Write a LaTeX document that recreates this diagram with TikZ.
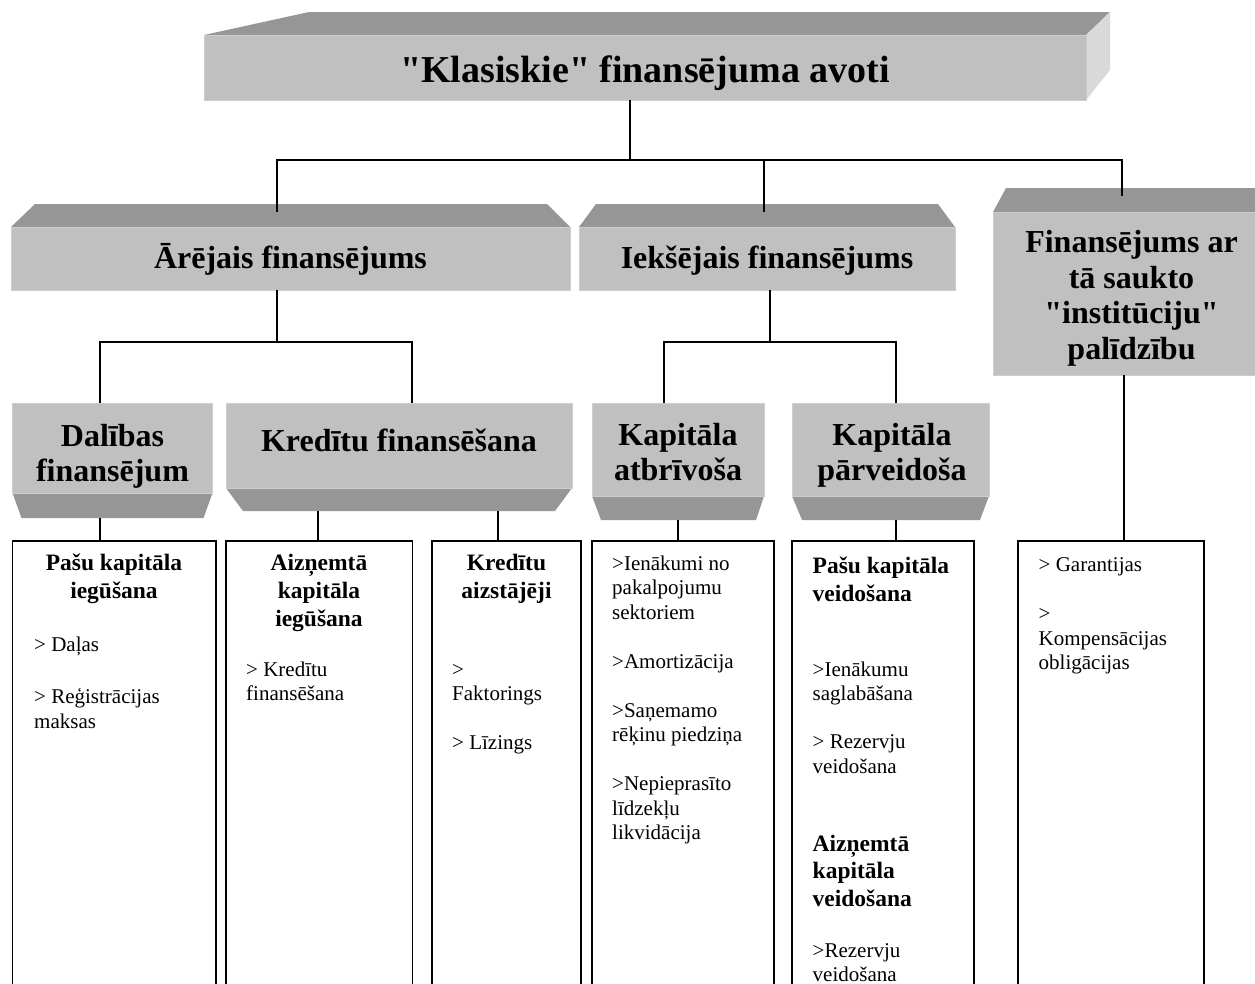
\documentclass[tikz,border=0pt]{standalone}
\usepackage{fontspec}
\setmainfont{Liberation Serif}[Ligatures=TeXOff]
\definecolor{facegray}{HTML}{C0C0C0}
\definecolor{edgegray}{HTML}{CDCDCD}
\definecolor{bevelgray}{HTML}{969696}
\definecolor{sidegray}{HTML}{D9D9D9}

\begin{document}
\begin{tikzpicture}[x=1pt,y=-1pt,
  face/.style={fill=facegray, draw=edgegray, line width=0.8, inner sep=0pt, outer sep=0pt},
  bevel/.style={fill=bevelgray},
  side/.style={fill=sidegray},
  link/.style={draw=black, line width=1.8},
  listbox/.style={draw=black, line width=1.8, inner sep=0pt, outer sep=0pt},
  hdA/.style={font=\fontsize{38}{40}\selectfont\bfseries, anchor=base, inner sep=0pt},
  hdB/.style={font=\fontsize{32}{35}\selectfont\bfseries, anchor=base, inner sep=0pt},
  subhd/.style={font=\fontsize{23.5}{28}\selectfont\bfseries, anchor=base, inner sep=0pt},
  subhdl/.style={font=\fontsize{23.5}{28}\selectfont\bfseries, anchor=base west, inner sep=0pt},
  entry/.style={font=\fontsize{21}{24.5}\selectfont, anchor=base west, inner sep=0pt},
]
\useasboundingbox (0,0) rectangle (1255,983);
\fill[white] (0,0) rectangle (1255,983);
\clip (0,0) rectangle (1255,983);

% ---------- top block ----------
\fill[bevel] (204,35) -- (309,12) -- (1110,12) -- (1086,35) -- cycle;
\fill[side]  (1086,35) -- (1110,12) -- (1110,70) -- (1086,100) -- cycle;
\node[face, minimum width=882, minimum height=65] (top) at (645,67.5) {};
\node[hdA] (tTop) at (645,82) {"Klasiskie" finansējuma avoti};

% ---------- second level ----------
\fill[bevel] (11,227) -- (35,204) -- (547,204) -- (570,227) -- cycle;
\node[face, minimum width=559, minimum height=63] (ext) at (290.5,258.5) {};
\node[hdB] (tExt) at (290.5,268) {Ārējais finansējums};

\fill[bevel] (579,227) -- (596,204) -- (938,204) -- (955,227) -- cycle;
\node[face, minimum width=376, minimum height=63] (int) at (767,258.5) {};
\node[hdB] (tInt) at (767,268) {Iekšējais finansējums};

\fill[bevel] (993,212) -- (1006,188) -- (1275,188) -- (1275,212) -- cycle;
\node[face, minimum width=277, minimum height=163] (inst) at (1131.5,293.5) {};
\node[hdB] (tInst1) at (1131.5,252) {Finansējums ar};
\node[hdB] (tInst2) at (1131.5,288) {tā saukto};
\node[hdB] (tInst3) at (1131.5,323.5) {"institūciju"};
\node[hdB] (tInst4) at (1131.5,359.5) {palīdzību};

% ---------- third level ----------
\fill[bevel] (12.5,493) -- (212.5,493) -- (203.5,518) -- (21.5,518) -- cycle;
\node[face, minimum width=200, minimum height=90] (dal) at (112.5,448) {};
\node[hdB] (tDal1) at (112.5,446) {Dalības};
\node[hdB] (tDal2) at (112.5,481) {finansējum};

\fill[bevel] (226,488) -- (572,488) -- (555,511) -- (243,511) -- cycle;
\node[face, minimum width=346, minimum height=85] (kred) at (399,445.5) {};
\node[hdB] (tKred) at (399,451) {Kredītu finansēšana};

\fill[bevel] (592,496) -- (764,496) -- (756,520) -- (601,520) -- cycle;
\node[face, minimum width=172, minimum height=93] (atb) at (678,449.5) {};
\node[hdB] (tAtb1) at (678,445) {Kapitāla};
\node[hdB] (tAtb2) at (678,480) {atbrīvoša};

\fill[bevel] (792,496) -- (989,496) -- (980,520) -- (802,520) -- cycle;
\node[face, minimum width=197, minimum height=93] (parv) at (890.5,449.5) {};
\node[hdB] (tParv1) at (892,445) {Kapitāla};
\node[hdB] (tParv2) at (892,480) {pārveidoša};

% ---------- list boxes ----------
\node[listbox, minimum width=203.5, minimum height=459] (b1) at (114.25,770.5) {};
\node[listbox, minimum width=186.5, minimum height=459] (b2) at (319.25,770.5) {};
\node[listbox, minimum width=149,   minimum height=459] (b3) at (506.5,770.5) {};
\node[listbox, minimum width=182,   minimum height=459] (b4) at (683,770.5) {};
\node[listbox, minimum width=182,   minimum height=459] (b5) at (883,770.5) {};
\node[listbox, minimum width=186,   minimum height=459] (b6) at (1111,770.5) {};

% ---------- connectors ----------
\coordinate (j0) at (630,160);
\coordinate (aIn) at (277,212);
\coordinate (bIn) at (764,212);
\coordinate (cIn) at (1122,196);
\draw[link] (top.south -| j0) -- (j0);
\draw[link] (aIn) |- (cIn |- j0) -- (cIn);
\draw[link] (bIn) -- (bIn |- j0);

\coordinate (j1) at (277,342);
\coordinate (j1l) at (100,342);
\coordinate (j1r) at (412,342);
\draw[link] (ext.south -| j1) -- (j1);
\draw[link] (dal.north -| j1l) |- (j1r) -- (kred.north -| j1r);

\coordinate (j2) at (770,342);
\coordinate (j2l) at (664,342);
\coordinate (j2r) at (896,342);
\draw[link] (int.south -| j2) -- (j2);
\draw[link] (atb.north -| j2l) |- (j2r) -- (parv.north -| j2r);

\coordinate (dalOut) at (100,518);
\coordinate (kredOutA) at (318,511);
\coordinate (kredOutB) at (498,511);
\coordinate (atbOut) at (678,520);
\coordinate (parvOut) at (896,520);
\coordinate (instOut) at (1124,375);
\draw[link] (dalOut) -- (b1.north -| dalOut);
\draw[link] (kredOutA) -- (b2.north -| kredOutA);
\draw[link] (kredOutB) -- (b3.north -| kredOutB);
\draw[link] (atbOut) -- (b4.north -| atbOut);
\draw[link] (parvOut) -- (b5.north -| parvOut);
\draw[link] (instOut) -- (b6.north -| instOut);

% ---------- list contents ----------
\node[subhd] (b1h1) at (114,570) {Pašu kapitāla};
\node[subhd] (b1h2) at (114,598) {iegūšana};
\node[entry] (b1e1) at (34,651) {> Daļas};
\node[entry] (b1e2) at (34,703) {> Reģistrācijas};
\node[entry] (b1e3) at (34,728) {maksas};

\node[subhd] (b2h1) at (319,570) {Aizņemtā};
\node[subhd] (b2h2) at (319,598) {kapitāla};
\node[subhd] (b2h3) at (319,626) {iegūšana};
\node[entry] (b2e1) at (246,676) {> Kredītu};
\node[entry] (b2e2) at (246,700.5) {finansēšana};

\node[subhd] (b3h1) at (506.5,570) {Kredītu};
\node[subhd] (b3h2) at (506.5,598) {aizstājēji};
\node[entry] (b3e1) at (452,676) {>};
\node[entry] (b3e2) at (452,700.5) {Faktorings};
\node[entry] (b3e3) at (452,749.5) {> Līzings};

\node[entry] (b4e1) at (612,570) {>Ienākumi no};
\node[entry] (b4e2) at (612,594.5) {pakalpojumu};
\node[entry] (b4e3) at (612,619) {sektoriem};
\node[entry] (b4e4) at (612,668) {>Amortizācija};
\node[entry] (b4e5) at (612,717) {>Saņemamo};
\node[entry] (b4e6) at (612,741.5) {rēķinu piedziņa};
\node[entry] (b4e7) at (612,790.5) {>Nepieprasīto};
\node[entry] (b4e8) at (612,815) {līdzekļu};
\node[entry] (b4e9) at (612,839.5) {likvidācija};

\node[subhdl] (b5h1) at (812.5,573) {Pašu kapitāla};
\node[subhdl] (b5h2) at (812.5,601) {veidošana};
\node[entry] (b5e1) at (812.5,676) {>Ienākumu};
\node[entry] (b5e2) at (812.5,700) {saglabāšana};
\node[entry] (b5e3) at (812.5,748) {> Rezervju};
\node[entry] (b5e4) at (812.5,773) {veidošana};
\node[subhdl] (b5h3) at (812.5,851) {Aizņemtā};
\node[subhdl] (b5h4) at (812.5,878) {kapitāla};
\node[subhdl] (b5h5) at (812.5,906) {veidošana};
\node[entry] (b5e5) at (812.5,957) {>Rezervju};
\node[entry] (b5e6) at (812.5,981.5) {veidošana};

\node[entry] (b6e1) at (1038.5,571.5) {> Garantijas};
\node[entry] (b6e2) at (1038.5,620.5) {>};
\node[entry] (b6e3) at (1038.5,645) {Kompensācijas};
\node[entry] (b6e4) at (1038.5,669.5) {obligācijas};
\end{tikzpicture}
\end{document}
